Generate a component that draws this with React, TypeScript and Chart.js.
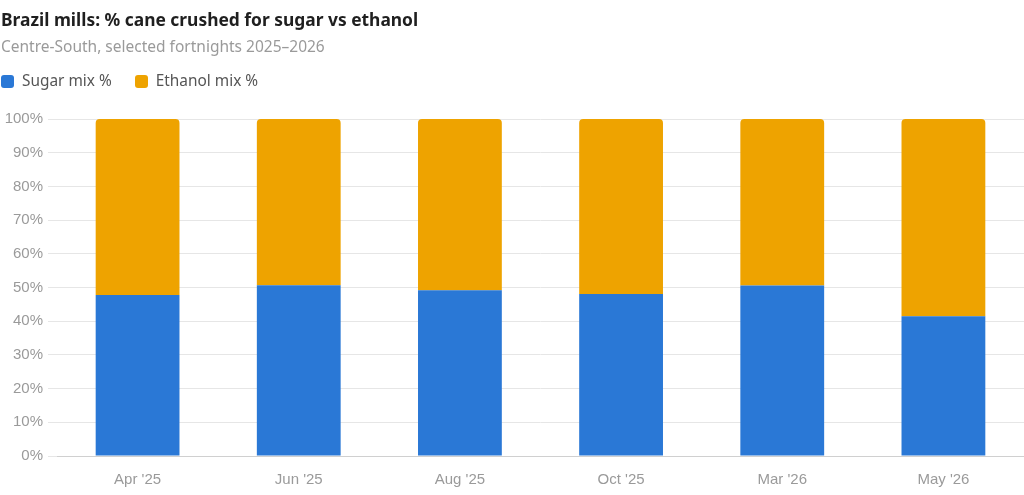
import React, { useEffect, useRef } from "react";
import { Chart, registerables } from "chart.js";

Chart.register(...registerables);

const categories: string[] = ["Apr '25", "Jun '25", "Aug '25", "Oct '25", "Mar '26", "May '26"];
const sugarMix: number[] = [47.8, 50.7, 49.2, 48.1, 50.6, 41.5];
const ethanolMix: number[] = [52.2, 49.3, 50.8, 51.9, 49.4, 58.5];
const yTickValues: number[] = [0, 10, 20, 30, 40, 50, 60, 70, 80, 90, 100];

const SERIES_NAMES = ["Sugar mix %", "Ethanol mix %"];
const COLORS = ["#2a78d6", "#eea300"];

const TITLE = "Brazil mills: % cane crushed for sugar vs ethanol";
const SUBTITLE = "Centre-South, selected fortnights 2025–2026";

export default function App() {
  const ref = useRef<HTMLCanvasElement | null>(null);

  useEffect(() => {
    document.body.style.margin = "0";
    const canvas = ref.current;
    if (!canvas) return;
    const tickFont = { family: "'Liberation Sans', Arial, sans-serif", size: 15 };
    const chart = new Chart(canvas, {
      type: "bar",
      data: {
        labels: categories,
        datasets: [
          {
            label: SERIES_NAMES[0],
            data: sugarMix,
            backgroundColor: COLORS[0],
            borderWidth: 0,
            borderRadius: 0,
            categoryPercentage: 1,
            barPercentage: 0.52,
          },
          {
            label: SERIES_NAMES[1],
            data: ethanolMix,
            backgroundColor: COLORS[1],
            borderWidth: 0,
            borderRadius: { topLeft: 4, topRight: 4, bottomLeft: 0, bottomRight: 0 },
            borderSkipped: "start",
            categoryPercentage: 1,
            barPercentage: 0.52,
          },
        ],
      },
      options: {
        responsive: false,
        animation: false,
        devicePixelRatio: 1,
        layout: { padding: { top: 119, left: 0, right: 0, bottom: 0 } },
        plugins: {
          legend: { display: false },
          title: { display: false },
          tooltip: { enabled: false },
        },
        scales: {
          x: {
            stacked: true,
            grid: { display: false, drawTicks: false },
            border: { display: true, color: "#d0d0d0", width: 1 },
            ticks: {
              color: "#9a9a9a",
              font: tickFont,
              padding: 15,
            },
            afterFit: (axis: any) => {
              axis.height = 39;
            },
          },
          y: {
            stacked: true,
            min: 0,
            max: 100,
            afterBuildTicks: (axis: any) => {
              axis.ticks = yTickValues.map((v) => ({ value: v }));
            },
            grid: { color: "#e6e6e6", lineWidth: 1, tickLength: 9 },
            border: { display: false },
            ticks: {
              color: "#9a9a9a",
              font: tickFont,
              padding: 5,
              callback: (v: any) => `${v}%`,
            },
            afterFit: (axis: any) => {
              axis.width = 57;
            },
          },
        },
      },
    });
    return () => chart.destroy();
  }, []);

  const font = "'Noto Sans', 'Open Sans', sans-serif";

  return (
    <div style={{ position: "relative", width: 1024, height: 495, background: "#fff", overflow: "hidden" }}>
      <canvas ref={ref} width={1024} height={495} style={{ position: "absolute", left: 0, top: 0 }} />
      <div
        style={{
          position: "absolute",
          left: 1,
          top: 6,
          fontFamily: font,
          fontWeight: 700,
          fontSize: 17.4,
          lineHeight: "26px",
          color: "#1f1f1f",
          whiteSpace: "nowrap",
        }}
      >
        {TITLE}
      </div>
      <div
        style={{
          position: "absolute",
          left: 1,
          top: 35,
          fontFamily: font,
          fontSize: 15.5,
          lineHeight: "22px",
          color: "#9a9a9a",
          whiteSpace: "nowrap",
        }}
      >
        {SUBTITLE}
      </div>
      <div
        style={{
          position: "absolute",
          left: 1,
          top: 70,
          display: "flex",
          alignItems: "center",
          fontFamily: font,
          fontSize: 15.4,
          lineHeight: "22px",
          color: "#555",
          whiteSpace: "nowrap",
        }}
      >
        {SERIES_NAMES.map((name, i) => (
          <div key={name} style={{ display: "flex", alignItems: "center", marginRight: 23 }}>
            <span
              style={{
                display: "inline-block",
                width: 13,
                height: 13,
                borderRadius: 3,
                background: COLORS[i],
                marginRight: 8,
              }}
            />
            <span>{name}</span>
          </div>
        ))}
      </div>
    </div>
  );
}
